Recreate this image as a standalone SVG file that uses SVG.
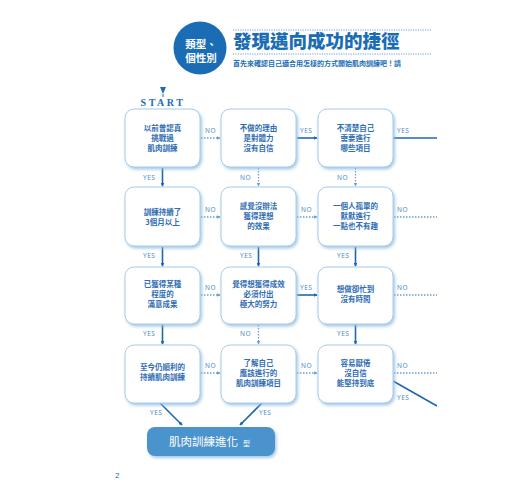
<svg xmlns="http://www.w3.org/2000/svg" width="520" height="500" viewBox="0 0 520 500">
<defs>
<style>
.box{fill:#fff;stroke:#a8cbea;stroke-width:1}
.t{font-family:"Noto Sans CJK TC","Noto Sans",sans-serif;font-size:7.5px;font-weight:bold;fill:#2f6db3;text-anchor:middle}
.lab{font-family:"Noto Sans","DejaVu Sans",sans-serif;font-size:6.5px;fill:#4f8cc8;letter-spacing:0.5px}
.sol{stroke:#1d68b3;stroke-width:1.6;fill:none}
.dot{stroke:#6a9fd2;stroke-width:1.3;fill:none;stroke-dasharray:1.5 1.5}
</style>
<filter id="sh" x="-20%" y="-20%" width="140%" height="140%">
<feDropShadow dx="1.5" dy="2" stdDeviation="1.5" flood-color="#8fbbe3" flood-opacity="0.8"/>
</filter>
<marker id="as" viewBox="0 0 6 6" refX="5" refY="3" markerWidth="4" markerHeight="4" orient="auto" markerUnits="userSpaceOnUse">
<path d="M0,0 L6,3 L0,6 Z" fill="#1d68b3"/>
</marker>
<marker id="ad" viewBox="0 0 6 6" refX="5" refY="3" markerWidth="3.5" markerHeight="3.5" orient="auto" markerUnits="userSpaceOnUse">
<path d="M0,0 L6,3 L0,6 Z" fill="#6a9fd2"/>
</marker>
</defs>
<rect width="520" height="500" fill="#fff"/>

<g id="header">
<circle cx="200" cy="48" r="26.5" fill="#1a6db5"/>
<text x="201" y="48" font-family="Noto Sans CJK TC,sans-serif" font-size="10.5" font-weight="bold" fill="#fff" text-anchor="middle">類型、</text>
<text x="201" y="62" font-family="Noto Sans CJK TC,sans-serif" font-size="10.5" font-weight="bold" fill="#fff" text-anchor="middle">個性別</text>
<line x1="233" y1="30" x2="432" y2="30" stroke="#6a9fd2" stroke-width="1" stroke-dasharray="1.2 1.2"/>
<line x1="233" y1="54" x2="432" y2="54" stroke="#6a9fd2" stroke-width="1" stroke-dasharray="1.2 1.2"/>
<text x="233" y="48" font-family="Noto Sans CJK TC,sans-serif" font-size="18.5" font-weight="900" fill="#1a6db5">發現邁向成功的捷徑</text>
<text x="233" y="66" font-family="Noto Sans CJK TC,sans-serif" font-size="7" font-weight="bold" fill="#1a6db5">首先來確認自己適合用怎樣的方式開始肌肉訓練吧！請</text>
</g>

<g id="start">
<path d="M160,87 L166,87 L163,94 Z" fill="#1a6db5"/>
<line x1="163" y1="94" x2="163" y2="97" stroke="#1a6db5" stroke-width="1"/>
<text x="163" y="106" font-family="Liberation Serif,serif" font-size="10" font-weight="bold" fill="#1a6db5" text-anchor="middle" letter-spacing="2.5">START</text>
</g>

<g id="connectors">
<!-- row 1 -->
<line class="dot" x1="201" y1="138" x2="220" y2="138" marker-end="url(#ad)"/>
<line class="sol" x1="297" y1="138" x2="317" y2="138" marker-end="url(#as)"/>
<line class="sol" x1="393" y1="138" x2="437" y2="138"/>
<line class="sol" x1="162.5" y1="168" x2="162.5" y2="186" marker-end="url(#as)"/>
<line class="dot" x1="258.5" y1="168" x2="258.5" y2="186" marker-end="url(#ad)"/>
<line class="dot" x1="355.5" y1="168" x2="355.5" y2="186" marker-end="url(#ad)"/>
<!-- row 2 -->
<line class="dot" x1="201" y1="217" x2="220" y2="217" marker-end="url(#ad)"/>
<line class="dot" x1="297" y1="217" x2="317" y2="217" marker-end="url(#ad)"/>
<line class="dot" x1="394" y1="217" x2="437" y2="217"/>
<line class="sol" x1="162.5" y1="247" x2="162.5" y2="266" marker-end="url(#as)"/>
<line class="sol" x1="258.5" y1="247" x2="258.5" y2="266" marker-end="url(#as)"/>
<line class="sol" x1="355.5" y1="247" x2="355.5" y2="266" marker-end="url(#as)"/>
<!-- row 3 -->
<line class="dot" x1="201" y1="295" x2="220" y2="295" marker-end="url(#ad)"/>
<line class="sol" x1="297" y1="295" x2="317" y2="295" marker-end="url(#as)"/>
<line class="dot" x1="394" y1="295" x2="437" y2="295"/>
<line class="sol" x1="162.5" y1="325" x2="162.5" y2="344" marker-end="url(#as)"/>
<line class="dot" x1="258.5" y1="325" x2="258.5" y2="344" marker-end="url(#ad)"/>
<line class="sol" x1="355.5" y1="325" x2="355.5" y2="344" marker-end="url(#as)"/>
<!-- row 4 -->
<line class="dot" x1="201" y1="373" x2="220" y2="373" marker-end="url(#ad)"/>
<line class="dot" x1="297" y1="373" x2="317" y2="373" marker-end="url(#ad)"/>
<line class="dot" x1="394" y1="373" x2="437" y2="373"/>
<line class="sol" x1="393" y1="381" x2="437" y2="406"/>
<line class="sol" x1="160" y1="403" x2="182" y2="425" marker-end="url(#as)"/>
<line class="sol" x1="262" y1="403" x2="240" y2="425" marker-end="url(#as)"/>
<!-- labels -->
<text class="lab" x="205" y="133">NO</text>
<text class="lab" x="300" y="133">YES</text>
<text class="lab" x="397" y="133">YES</text>
<text class="lab" x="143" y="180">YES</text>
<text class="lab" x="240" y="180">NO</text>
<text class="lab" x="337" y="180">NO</text>
<text class="lab" x="205" y="212">NO</text>
<text class="lab" x="301" y="212">NO</text>
<text class="lab" x="397" y="212">NO</text>
<text class="lab" x="143" y="258">YES</text>
<text class="lab" x="240" y="258">YES</text>
<text class="lab" x="337" y="258">YES</text>
<text class="lab" x="205" y="290">NO</text>
<text class="lab" x="300" y="290">YES</text>
<text class="lab" x="397" y="290">NO</text>
<text class="lab" x="143" y="336">YES</text>
<text class="lab" x="240" y="336">NO</text>
<text class="lab" x="337" y="336">YES</text>
<text class="lab" x="205" y="368">NO</text>
<text class="lab" x="301" y="368">NO</text>
<text class="lab" x="397" y="368">NO</text>
<text class="lab" x="397" y="400">YES</text>
<text class="lab" x="150" y="415">YES</text>
<text class="lab" x="259" y="415">YES</text>
</g>

<g id="n11"><rect class="box" x="125" y="109" width="75" height="58" rx="9" filter="url(#sh)"/>
<text class="t" x="162.5" y="131">以前曾認真</text><text class="t" x="162.5" y="141">挑戰過</text><text class="t" x="162.5" y="151">肌肉訓練</text></g>
<g id="n12"><rect class="box" x="221" y="109" width="75" height="58" rx="9" filter="url(#sh)"/>
<text class="t" x="258.5" y="131">不做的理由</text><text class="t" x="258.5" y="141">是對體力</text><text class="t" x="258.5" y="151">沒有自信</text></g>
<g id="n13"><rect class="box" x="318" y="109" width="75" height="58" rx="9" filter="url(#sh)"/>
<text class="t" x="355.5" y="131">不清楚自己</text><text class="t" x="355.5" y="141">需要進行</text><text class="t" x="355.5" y="151">哪些項目</text></g>

<g id="n21"><rect class="box" x="125" y="187" width="75" height="59" rx="9" filter="url(#sh)"/>
<text class="t" x="162.5" y="215">訓練持續了</text><text class="t" x="162.5" y="225">3個月以上</text></g>
<g id="n22"><rect class="box" x="221" y="187" width="75" height="59" rx="9" filter="url(#sh)"/>
<text class="t" x="258.5" y="209">感覺沒辦法</text><text class="t" x="258.5" y="219">獲得理想</text><text class="t" x="258.5" y="229">的效果</text></g>
<g id="n23"><rect class="box" x="318" y="187" width="75" height="59" rx="9" filter="url(#sh)"/>
<text class="t" x="355.5" y="209">一個人孤單的</text><text class="t" x="355.5" y="219">默默進行</text><text class="t" x="355.5" y="229">一點也不有趣</text></g>

<g id="n31"><rect class="box" x="125" y="267" width="75" height="57" rx="9" filter="url(#sh)"/>
<text class="t" x="162.5" y="287">已獲得某種</text><text class="t" x="162.5" y="297">程度的</text><text class="t" x="162.5" y="307">滿意成果</text></g>
<g id="n32"><rect class="box" x="221" y="267" width="75" height="57" rx="9" filter="url(#sh)"/>
<text class="t" x="258.5" y="287">覺得想獲得成效</text><text class="t" x="258.5" y="297">必須付出</text><text class="t" x="258.5" y="307">極大的努力</text></g>
<g id="n33"><rect class="box" x="318" y="267" width="75" height="57" rx="9" filter="url(#sh)"/>
<text class="t" x="355.5" y="292">想做卻忙到</text><text class="t" x="355.5" y="302">沒有時間</text></g>

<g id="n41"><rect class="box" x="125" y="345" width="75" height="58" rx="9" filter="url(#sh)"/>
<text class="t" x="162.5" y="370">至今仍順利的</text><text class="t" x="162.5" y="380">持續肌肉訓練</text></g>
<g id="n42"><rect class="box" x="221" y="345" width="75" height="58" rx="9" filter="url(#sh)"/>
<text class="t" x="258.5" y="366">了解自己</text><text class="t" x="258.5" y="376">應該進行的</text><text class="t" x="258.5" y="386">肌肉訓練項目</text></g>
<g id="n43"><rect class="box" x="318" y="345" width="75" height="58" rx="9" filter="url(#sh)"/>
<text class="t" x="355.5" y="366">容易厭倦</text><text class="t" x="355.5" y="376">沒自信</text><text class="t" x="355.5" y="386">能堅持到底</text></g>

<g id="result"><rect x="147" y="427" width="128" height="29" rx="8" fill="#4b93cc" filter="url(#sh)"/>
<text x="169" y="446" font-family="Noto Sans CJK TC,sans-serif" font-size="11.5" fill="#fff">肌肉訓練進化</text>
<text x="243" y="446" font-family="Noto Sans CJK TC,sans-serif" font-size="7" fill="#fff">型</text></g>

<text x="115" y="478" font-family="Liberation Sans,sans-serif" font-size="8" fill="#1a6db5">2</text>
</svg>
